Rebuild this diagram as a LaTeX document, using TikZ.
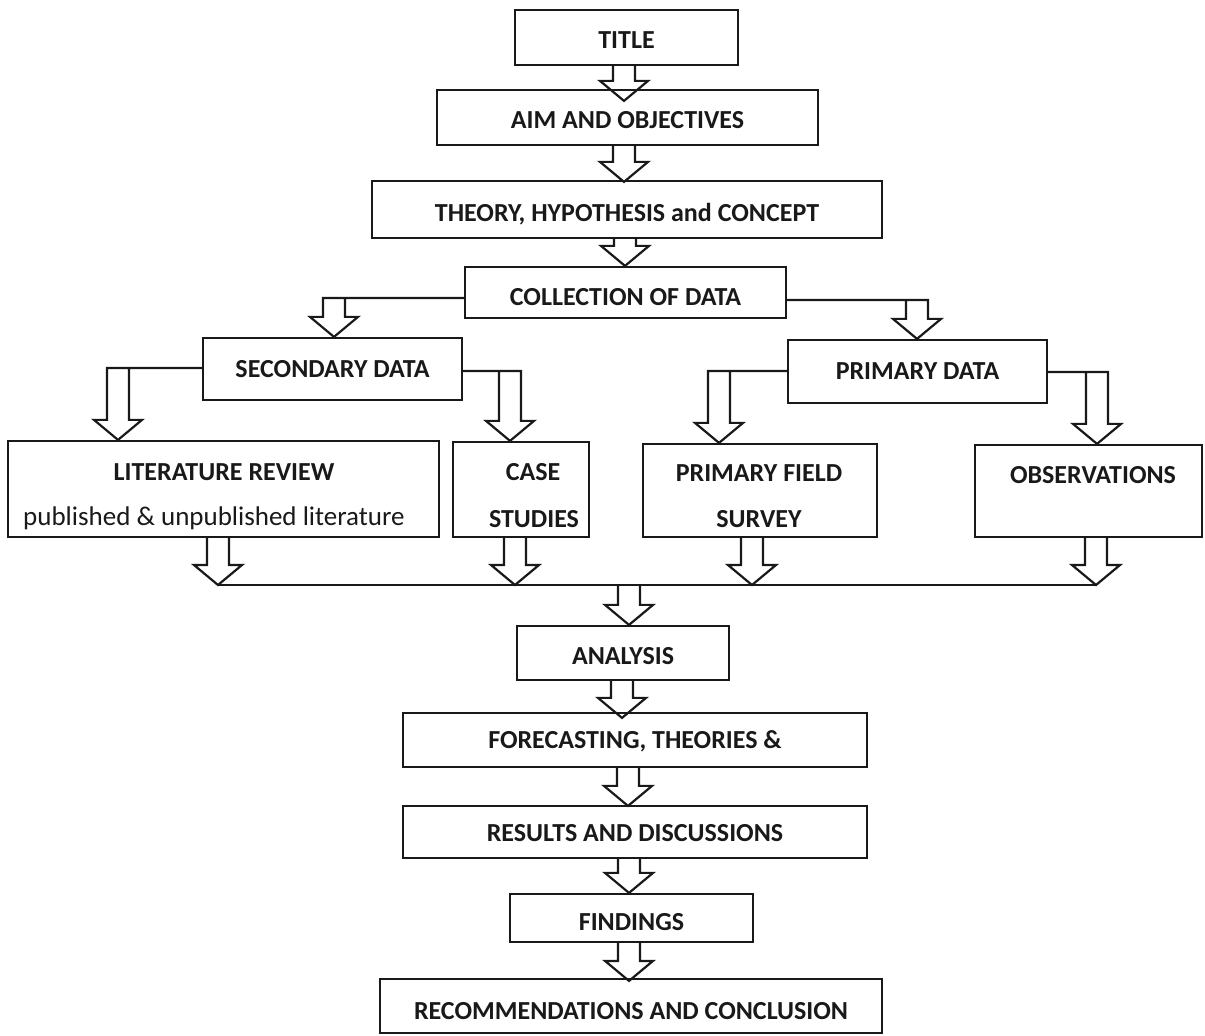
\documentclass[tikz,border=0pt]{standalone}
\usepackage{fontspec}
\setmainfont{Carlito}
\usetikzlibrary{calc}
\definecolor{ink}{gray}{0.1}
% straight hollow block arrow: #1 from anchor, #2 to anchor, #3 x (px), #4 tip depth below target (px)
\newcommand\vblk[4]{%
  \coordinate (vA) at (#3,0 |- #1);
  \coordinate (vB) at ($(#3,0 |- #2)+(0,#4)$);
  \draw[arr] ($(vA)+(-11,0)$) -- ($(vB)+(-11,-20)$) -- ++(-13,0) -- (vB)
    -- ++(24,-20) -- ++(-13,0) -- ($(vA)+(11,0)$);}
% bent hollow block arrow: #1 source side anchor, #2 target node, #3 x (px), #4 line y (px), #5 side (-1 left, 1 right)
\newcommand\bblk[5]{%
  \coordinate (bA) at (#3,#4);
  \coordinate (bB) at (#3,0 |- #2.north);
  \draw[arr] (#1 |- bA) -- ($(bA)+({(#5)*11},0)$) -- ($(bB)+({(#5)*11},-20)$)
    -- ++({(#5)*13},0) -- (bB) -- ++({-(#5)*24},-20) -- ++({(#5)*13},0)
    -- ($(bA)+({-(#5)*11},0)$);}
\begin{document}
\begin{tikzpicture}[x=0.5pt,y=-0.5pt,
  box/.style={draw=ink, line width=1.1pt, inner sep=0pt, text=ink,
    font=\bfseries\fontsize{13}{15}\selectfont},
  dn/.style={text height={(8.2+#1)*1pt}, text depth=0pt},
  lbl/.style={inner sep=0pt, text=ink, font=\bfseries\fontsize{13}{15}\selectfont},
  sub/.style={inner sep=0pt, text=ink, font=\fontsize{13.5}{15}\selectfont},
  arr/.style={draw=ink, line width=1.1pt, line join=miter}]
\useasboundingbox (0,0) rectangle (1205,1036);

% boxes
\node[box,dn=2.5,minimum width=111.5pt,minimum height=27.5pt] (title) at (626.5,37.5) {TITLE};
\node[box,dn=2.5,minimum width=190.5pt,minimum height=27.5pt] (aim) at (627.5,117.5) {AIM AND OBJECTIVES};
\node[box,dn=3.5,minimum width=255pt,minimum height=28.5pt] (theory) at (627,209.5) {THEORY, HYPOTHESIS and CONCEPT};
\node[box,dn=4.5,minimum width=160.5pt,minimum height=25.5pt] (collect) at (625.5,292.5) {COLLECTION OF DATA};
\node[box,dn=0,minimum width=129.5pt,minimum height=31pt] (second) at (332.5,369) {SECONDARY DATA};
\node[box,dn=0,minimum width=129.5pt,minimum height=31.5pt] (primary) at (917.5,371.5) {PRIMARY DATA};
\node[box,minimum width=215.5pt,minimum height=48pt] (lit) at (223.5,489) {};
\node[box,minimum width=68pt,minimum height=47.5pt] (case) at (521,489.5) {};
\node[box,minimum width=117pt,minimum height=46.5pt] (pfs) at (760,490.5) {};
\node[box,minimum width=113.5pt,minimum height=46pt] (obs) at (1088.5,491) {};
\node[lbl] (litT) at (224,472) {LITERATURE REVIEW};
\node[sub] (litS) at (214,518) {published \& unpublished literature};
\node[lbl] (caseT) at (533,472) {CASE};
\node[lbl] (caseS) at (534,519) {STUDIES};
\node[lbl] (pfsT) at (759,473) {PRIMARY FIELD};
\node[lbl] (pfsS) at (759,519) {SURVEY};
\node[lbl] (obsT) at (1093,475) {OBSERVATIONS};
\node[box,dn=3,minimum width=106pt,minimum height=27pt] (analysis) at (623,653) {ANALYSIS};
\node[box,dn=0.5,minimum width=232pt,minimum height=27pt] (fore) at (635,740) {FORECASTING, THEORIES \&};
\node[box,dn=1,minimum width=232pt,minimum height=26pt] (results) at (635,832) {RESULTS AND DISCUSSIONS};
\node[box,dn=4,minimum width=121.5pt,minimum height=24pt] (findings) at (631.5,918) {FINDINGS};
\node[box,dn=5,minimum width=251pt,minimum height=27pt] (rec) at (631,1006) {RECOMMENDATIONS AND CONCLUSION};

% main column arrows
\vblk{title.south}{aim.north}{624}{12}
\vblk{aim.south}{theory.north}{624}{2}
\vblk{theory.south}{collect.north}{625}{0}

% branches
\bblk{collect.west}{second}{334}{298}{-1}
\bblk{collect.east}{primary}{917}{300}{1}
\bblk{second.west}{lit}{118}{368}{-1}
\bblk{second.east}{case}{510}{371}{1}
\bblk{primary.west}{pfs}{719}{371}{-1}
\bblk{primary.east}{obs}{1097}{372}{1}

% collector
\coordinate (colL) at (218,585);
\coordinate (colR) at (1096,585);
\vblk{lit.south}{colL}{218}{0}
\vblk{case.south}{colL}{515}{0}
\vblk{pfs.south}{colL}{752}{0}
\vblk{obs.south}{colR}{1096}{0}
\draw[arr] (colL) -- (colR);
\vblk{colL}{analysis.north}{629}{0}

% lower column
\vblk{analysis.south}{fore.north}{622}{6}
\vblk{fore.south}{results.north}{628}{1}
\vblk{results.south}{findings.north}{629}{0}
\vblk{findings.south}{rec.north}{629}{3}
\end{tikzpicture}
\end{document}
